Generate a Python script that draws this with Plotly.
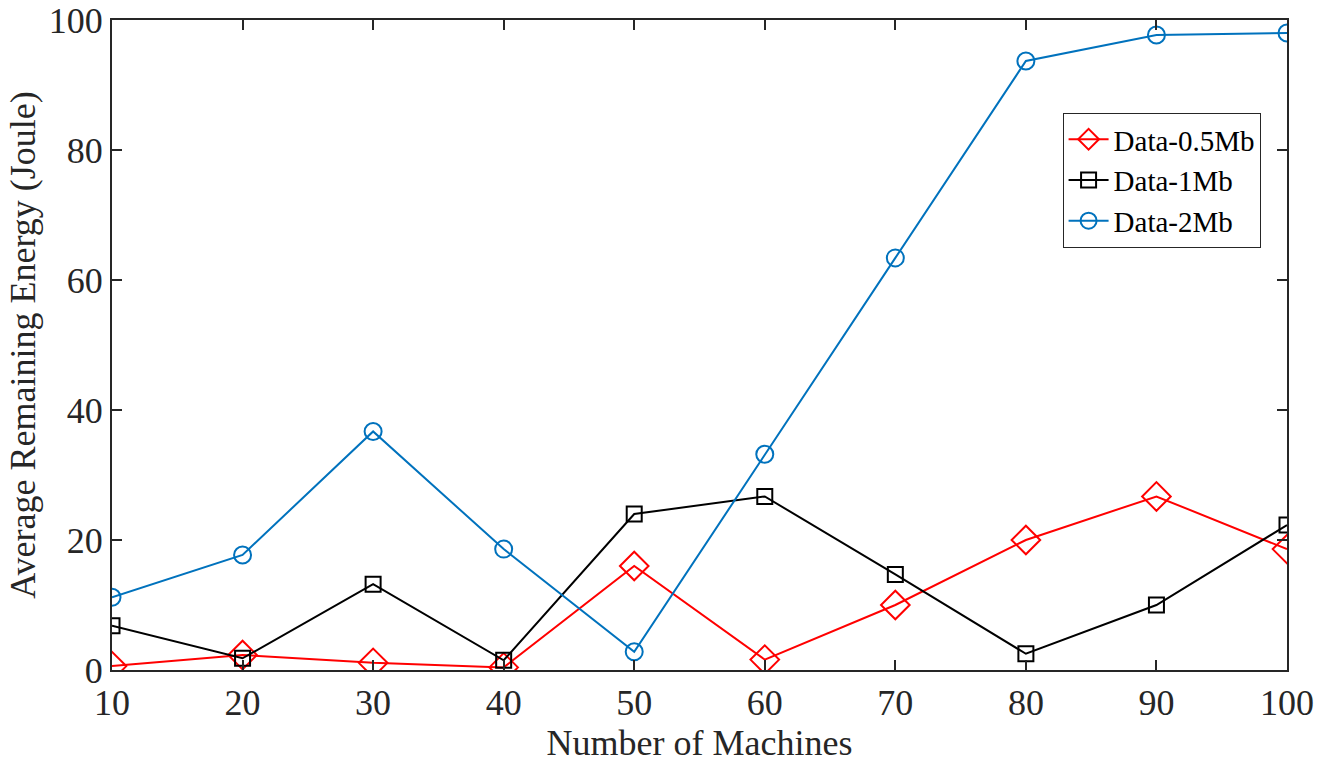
import plotly.graph_objects as go

machines = [10, 20, 30, 40, 50, 60, 70, 80, 90, 100]
data_05mb = [0.6, 2.3, 1.1, 0.4, 16.0, 1.6, 10.0, 20.0, 26.7, 18.6]
data_1mb = [6.8, 1.8, 13.2, 1.5, 24.0, 26.7, 14.7, 2.5, 10.0, 22.3]
data_2mb = [11.2, 17.7, 36.7, 18.6, 2.8, 33.2, 63.4, 93.7, 97.7, 98.0]

x_ticks = [10, 20, 30, 40, 50, 60, 70, 80, 90, 100]
y_ticks = [0, 20, 40, 60, 80, 100]

font_family = "Liberation Serif, Times New Roman, serif"

fig = go.Figure()
fig.add_trace(go.Scatter(
    x=machines, y=data_05mb, name="Data-0.5Mb", mode="lines+markers",
    line=dict(color="#ff0000", width=2),
    marker=dict(symbol="diamond-open", size=22, color="#ff0000", line=dict(width=2)),
))
fig.add_trace(go.Scatter(
    x=machines, y=data_1mb, name="Data-1Mb", mode="lines+markers",
    line=dict(color="#000000", width=2),
    marker=dict(symbol="square-open", size=15, color="#000000", line=dict(width=2)),
))
fig.add_trace(go.Scatter(
    x=machines, y=data_2mb, name="Data-2Mb", mode="lines+markers",
    line=dict(color="#0072bd", width=2),
    marker=dict(symbol="circle-open", size=17, color="#0072bd", line=dict(width=2)),
))

axis_common = dict(
    showline=True, linecolor="#262626", linewidth=2, mirror="ticks",
    ticks="inside", ticklen=10, tickwidth=2, tickcolor="#262626",
    showgrid=False, zeroline=False, automargin=False,
    tickfont=dict(family=font_family, size=36, color="#262626"),
)

fig.update_layout(
    width=1330, height=764,
    margin=dict(l=112, r=43, t=20, b=94),
    paper_bgcolor="white", plot_bgcolor="white",
    font=dict(family=font_family, color="#262626"),
    xaxis=dict(range=[10, 100], tickvals=x_ticks,
               title=dict(text="Number of Machines", font=dict(family=font_family, size=36, color="#262626"), standoff=4),
               **axis_common),
    yaxis=dict(range=[0, 100], tickvals=y_ticks,
               title=dict(text="Average Remaining Energy (Joule)", font=dict(family=font_family, size=36, color="#262626"), standoff=2),
               **axis_common),
    legend=dict(x=0.809, y=0.857, xanchor="left", yanchor="top",
                bgcolor="white", bordercolor="#262626", borderwidth=1,
                font=dict(family=font_family, size=29, color="#000000"),
                tracegroupgap=0, itemwidth=40),
    showlegend=True,
)

fig.write_html("out.html", config={"displayModeBar": False},
               post_script="document.body.style.margin='0px';document.body.style.padding='0px';document.body.style.overflow='hidden';")
